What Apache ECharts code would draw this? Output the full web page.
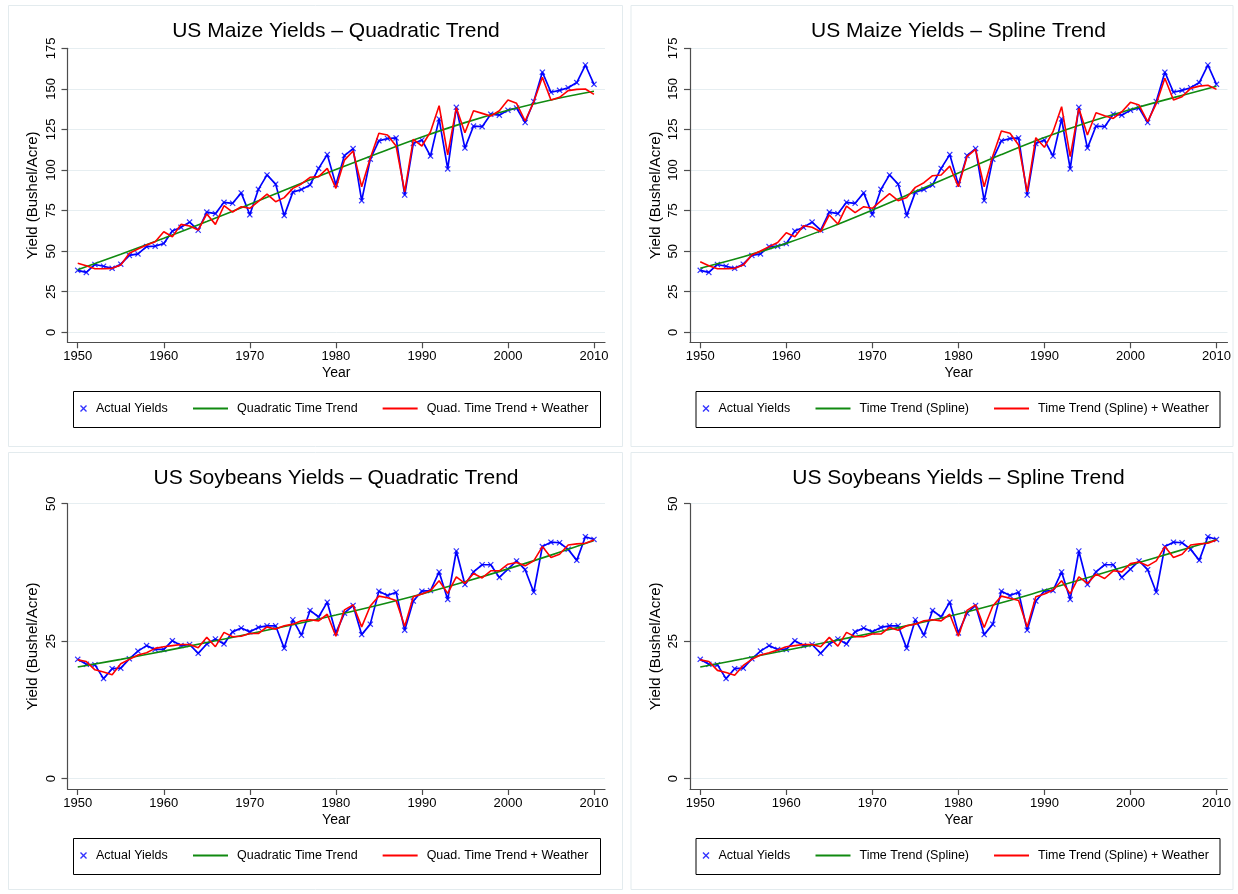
<!DOCTYPE html>
<html style="height: 100%">
<head>
    <meta charset="UTF-8">
    <title>US Maize and Soybeans Yields</title>
    <script src="https://cdn.jsdelivr.net/npm/echarts@6/dist/echarts.min.js"></script>
</head>
<body style="height: 100%; margin: 0; background: #fff">
    <div id="main" style="width: 1238px; height: 894px;"></div>
    <script>
        // years of observation
        var years = [1950, 1951, 1952, 1953, 1954, 1955, 1956, 1957, 1958, 1959,
            1960, 1961, 1962, 1963, 1964, 1965, 1966, 1967, 1968, 1969,
            1970, 1971, 1972, 1973, 1974, 1975, 1976, 1977, 1978, 1979,
            1980, 1981, 1982, 1983, 1984, 1985, 1986, 1987, 1988, 1989,
            1990, 1991, 1992, 1993, 1994, 1995, 1996, 1997, 1998, 1999,
            2000, 2001, 2002, 2003, 2004, 2005, 2006, 2007, 2008, 2009,
            2010];
        // years at which the trend curves were read
        var trendYears = [1950, 1955, 1960, 1965, 1970, 1975, 1980, 1985, 1990, 1995, 2000, 2005, 2010];

        var xTicks = [1950, 1960, 1970, 1980, 1990, 2000, 2010];
        var maizeTicks = [0, 25, 50, 75, 100, 125, 150, 175];
        var soyTicks = [0, 25, 50];

        // maize (bushel/acre)
        var maizeActual = [38.2, 36.9, 41.8, 40.7, 39.4, 42.0, 47.4, 48.3, 52.8, 53.1,
            54.7, 62.4, 64.7, 67.9, 62.9, 74.1, 73.1, 80.1, 79.5, 85.9,
            72.4, 88.1, 97.0, 91.3, 71.9, 86.4, 88.0, 90.8, 101.0, 109.5,
            91.0, 108.9, 113.2, 81.1, 106.7, 118.0, 119.4, 119.8, 84.6, 116.3,
            118.5, 108.6, 131.5, 100.7, 138.6, 113.5, 127.1, 126.7, 134.4, 133.8,
            136.9, 138.2, 129.3, 142.2, 160.3, 147.9, 149.1, 150.7, 153.9, 164.7,
            152.8];
        var maizeQuadTrend = [38.5, 48.1, 58.0, 68.3, 78.9, 89.7, 100.3, 110.5, 120.3, 129.2, 136.8, 143.2, 148.5];
        var maizeQuadWeather = [42.5, 41.0, 39.2, 39.2, 39.4, 41.5, 48.7, 51.3, 53.8, 55.8,
            62.0, 58.9, 66.5, 65.5, 63.0, 72.9, 66.5, 78.0, 74.1, 77.4,
            76.4, 80.7, 85.2, 80.5, 83.0, 88.7, 91.4, 95.5, 95.9, 101.0,
            88.7, 106.1, 111.7, 89.7, 107.2, 122.6, 121.6, 114.8, 86.6, 118.9,
            114.8, 123.6, 139.6, 109.4, 138.4, 123.0, 136.5, 134.9, 133.3, 136.5,
            143.1, 141.1, 130.2, 142.0, 157.1, 143.1, 144.8, 148.9, 149.7, 149.9,
            146.6];
        var maizeSplineTrend = [39.5, 46.5, 54.8, 64.5, 75.3, 86.7, 98.2, 109.5, 120.0, 129.3, 137.3, 144.6, 151.6];
        var maizeSplineWeather = [43.5, 41.0, 39.2, 39.2, 39.4, 41.4, 47.6, 50.1, 52.8, 55.3,
            61.4, 58.9, 65.7, 64.7, 62.0, 72.3, 66.7, 77.8, 73.7, 77.4,
            76.4, 81.0, 85.4, 81.1, 83.1, 89.3, 92.2, 96.5, 96.9, 102.4,
            89.7, 108.2, 112.7, 89.7, 108.6, 124.0, 122.6, 115.4, 86.6, 119.9,
            114.0, 123.6, 139.0, 108.2, 138.0, 121.6, 135.3, 133.5, 131.8, 135.9,
            141.7, 140.0, 129.8, 140.9, 156.5, 143.1, 145.2, 150.3, 151.7, 152.2,
            149.7];

        // soybeans (bushel/acre)
        var soyActual = [21.7, 20.8, 20.7, 18.2, 20.0, 20.1, 21.8, 23.2, 24.2, 23.5,
            23.5, 25.1, 24.2, 24.4, 22.8, 24.5, 25.4, 24.5, 26.7, 27.4,
            26.7, 27.5, 27.8, 27.8, 23.7, 28.9, 26.1, 30.6, 29.4, 32.1,
            26.5, 30.1, 31.5, 26.2, 28.1, 34.1, 33.3, 33.9, 27.0, 32.3,
            34.1, 34.2, 37.6, 32.6, 41.4, 35.3, 37.6, 38.9, 38.9, 36.6,
            38.1, 39.6, 38.0, 33.9, 42.2, 43.0, 42.9, 41.7, 39.7, 44.0,
            43.5];
        var soyQuadTrend = [20.3, 21.7, 23.2, 24.75, 26.35, 28.0, 29.75, 31.6, 33.6, 35.8, 38.15, 40.65, 43.3];
        var soyQuadWeather = [21.6, 21.3, 19.8, 19.4, 18.9, 20.9, 21.7, 22.5, 22.9, 23.7,
            24.0, 24.2, 24.4, 24.4, 23.8, 25.7, 24.0, 26.6, 25.8, 25.9,
            26.4, 26.4, 27.6, 27.2, 27.8, 28.1, 28.7, 28.9, 28.7, 29.9,
            25.9, 30.7, 31.6, 27.6, 31.4, 33.2, 32.9, 32.4, 27.7, 33.1,
            33.6, 34.2, 36.0, 33.7, 36.7, 35.5, 37.3, 36.5, 37.8, 37.8,
            39.0, 39.3, 38.7, 39.6, 42.2, 40.2, 40.8, 42.5, 42.7, 42.8,
            43.4];
        var soySplineTrend = [20.3, 21.8, 23.35, 24.9, 26.5, 28.15, 29.95, 32.0, 34.25, 36.55, 38.85, 41.15, 43.45];
        var soySplineWeather = [21.6, 21.3, 19.7, 19.3, 18.8, 20.6, 21.7, 22.5, 22.9, 23.4,
            24.0, 24.2, 24.4, 24.4, 24.0, 25.7, 24.1, 26.6, 25.8, 25.8,
            26.3, 26.3, 27.5, 27.0, 27.8, 28.1, 28.7, 28.9, 28.7, 29.9,
            25.9, 30.6, 31.6, 27.5, 31.4, 33.2, 32.8, 32.4, 27.6, 33.1,
            33.6, 34.3, 36.0, 33.6, 36.7, 35.5, 37.2, 36.4, 37.8, 37.6,
            39.1, 39.4, 38.7, 39.6, 42.2, 40.2, 40.8, 42.5, 42.7, 42.8,
            43.4];

        var FONT = '"Liberation Sans", Arial, Helvetica, sans-serif';
        var BLUE = '#0000ff', GREEN = '#108a10', RED = '#ff0000';
        var AXIS = '#4d4d4d', GRID = '#e6eef1';
        var xMark = 'path://M0,1.4L1.4,0L5,3.6L8.6,0L10,1.4L6.4,5L10,8.6L8.6,10L5,6.4L1.4,10L0,8.6L3.6,5Z';

        function pairs(xs, ys) {
            return xs.map(function (x, k) { return [x, ys[k]]; });
        }

        var myChart = echarts.init(document.getElementById('main'));

        var option = {
            backgroundColor: '#fff',
            animation: false,
            textStyle: { fontFamily: FONT },
            title: [], grid: [], xAxis: [], yAxis: [], legend: [], series: [], graphic: []
        };

        function addPanel(p) {
            var i = option.grid.length;
            var dx = p.dx, dy = p.dy;

            // outer panel frame and legend frame
            option.graphic.push({
                type: 'rect', silent: true, z: 0,
                shape: { x: 8.5 + dx, y: 5.5 + dy, width: p.frameW, height: p.frameH },
                style: { fill: null, stroke: '#e3ebee', lineWidth: 1 }
            });
            option.graphic.push({
                type: 'rect', silent: true, z: 0,
                shape: { x: 73.5 + dx, y: 391.5 + dy, width: p.boxW, height: 36 },
                style: { fill: null, stroke: '#000', lineWidth: 1 }
            });

            option.title.push({
                text: p.title, left: 336 + dx, top: 20.5 + dy, textAlign: 'center', padding: 0,
                textStyle: { fontSize: 21, fontWeight: 'normal', color: '#000', fontFamily: FONT }
            });

            option.grid.push({
                left: 67.5 + dx, top: p.top + dy, width: 537.5, height: p.height,
                outerBoundsMode: 'none'
            });

            option.xAxis.push({
                type: 'value', gridIndex: i, min: 1948.81, max: 2011.28,
                name: 'Year', nameLocation: 'middle', nameGap: 24,
                nameTextStyle: { fontSize: 14, color: '#000', fontFamily: FONT },
                axisLine: { show: true, onZero: false, lineStyle: { color: AXIS, width: 1.2 } },
                axisTick: { show: true, length: 6, customValues: xTicks, lineStyle: { color: AXIS, width: 1.2 } },
                axisLabel: {
                    customValues: xTicks, margin: 8, fontSize: 13, color: '#000', fontFamily: FONT,
                    formatter: function (v) { return String(v); }
                },
                splitLine: { show: false }
            });

            option.yAxis.push({
                type: 'value', gridIndex: i, min: p.yMin, max: p.yMax,
                name: 'Yield (Bushel/Acre)', nameLocation: 'middle', nameRotate: 90, nameGap: 27,
                nameTextStyle: { fontSize: 15, color: '#000', fontFamily: FONT },
                axisLine: { show: true, onZero: false, lineStyle: { color: AXIS, width: 1.2 } },
                axisTick: { show: true, length: 6, customValues: p.yTicks, lineStyle: { color: AXIS, width: 1.2 } },
                axisLabel: {
                    customValues: p.yTicks, rotate: 90, margin: 10, fontSize: 13, color: '#000', fontFamily: FONT,
                    formatter: function (v) { return String(v); }
                },
                splitLine: { show: true, lineStyle: { color: GRID, width: 1 } }
            });

            option.series.push({
                name: 'Actual Yields (line)', type: 'line', xAxisIndex: i, yAxisIndex: i,
                data: pairs(years, p.actual), symbol: 'none', silent: true, z: 2,
                lineStyle: { color: BLUE, width: 1.7 }, itemStyle: { color: BLUE }
            });
            option.series.push({
                name: 'Actual Yields', type: 'scatter', xAxisIndex: i, yAxisIndex: i,
                data: pairs(years, p.actual), symbol: xMark, symbolSize: 6, silent: true, z: 3,
                itemStyle: { color: BLUE }
            });
            option.series.push({
                name: p.trendName, type: 'line', xAxisIndex: i, yAxisIndex: i,
                data: pairs(trendYears, p.trend), symbol: 'none', smooth: 0.4,
                silent: true, z: 4,
                lineStyle: { color: GREEN, width: 1.6 }, itemStyle: { color: GREEN }
            });
            option.series.push({
                name: p.weatherName, type: 'line', xAxisIndex: i, yAxisIndex: i,
                data: pairs(years, p.weather), symbol: 'none', silent: true, z: 5,
                lineStyle: { color: RED, width: 1.6 }, itemStyle: { color: RED }
            });

            var legendText = { fontSize: 12.5, color: '#000', fontFamily: FONT, padding: [0, 0, 0, 4] };
            option.legend.push({
                left: 80 + dx, top: 402 + dy, padding: 0, selectedMode: false,
                itemWidth: 7, itemHeight: 7, textStyle: legendText,
                data: ['Actual Yields']
            });
            option.legend.push({
                left: 192 + dx, top: 402 + dy, padding: 0, selectedMode: false,
                itemWidth: 35, itemHeight: 7, itemGap: 24, textStyle: legendText,
                itemStyle: { opacity: 0 },
                data: [p.trendName, p.weatherName]
            });
        }

        addPanel({
            dx: 0, dy: 0, frameW: 614, frameH: 441, top: 48.3, height: 294, boxW: 527,
            title: 'US Maize Yields \u2013 Quadratic Trend',
            yMin: -6.16, yMax: 175, yTicks: maizeTicks,
            actual: maizeActual, trend: maizeQuadTrend, weather: maizeQuadWeather,
            trendName: 'Quadratic Time Trend', weatherName: 'Quad. Time Trend + Weather'
        });
        addPanel({
            dx: 622.5, dy: 0, frameW: 602, frameH: 441, top: 48.3, height: 294, boxW: 524,
            title: 'US Maize Yields \u2013 Spline Trend',
            yMin: -6.16, yMax: 175, yTicks: maizeTicks,
            actual: maizeActual, trend: maizeSplineTrend, weather: maizeSplineWeather,
            trendName: 'Time Trend (Spline)', weatherName: 'Time Trend (Spline) + Weather'
        });
        addPanel({
            dx: 0, dy: 447, frameW: 614, frameH: 437, top: 56.7, height: 285.3, boxW: 527,
            title: 'US Soybeans Yields \u2013 Quadratic Trend',
            yMin: -1.87, yMax: 50, yTicks: soyTicks,
            actual: soyActual, trend: soyQuadTrend, weather: soyQuadWeather,
            trendName: 'Quadratic Time Trend', weatherName: 'Quad. Time Trend + Weather'
        });
        addPanel({
            dx: 622.5, dy: 447, frameW: 602, frameH: 437, top: 56.7, height: 285.3, boxW: 524,
            title: 'US Soybeans Yields \u2013 Spline Trend',
            yMin: -1.87, yMax: 50, yTicks: soyTicks,
            actual: soyActual, trend: soySplineTrend, weather: soySplineWeather,
            trendName: 'Time Trend (Spline)', weatherName: 'Time Trend (Spline) + Weather'
        });

        myChart.setOption(option);
    </script>
</body>
</html>
